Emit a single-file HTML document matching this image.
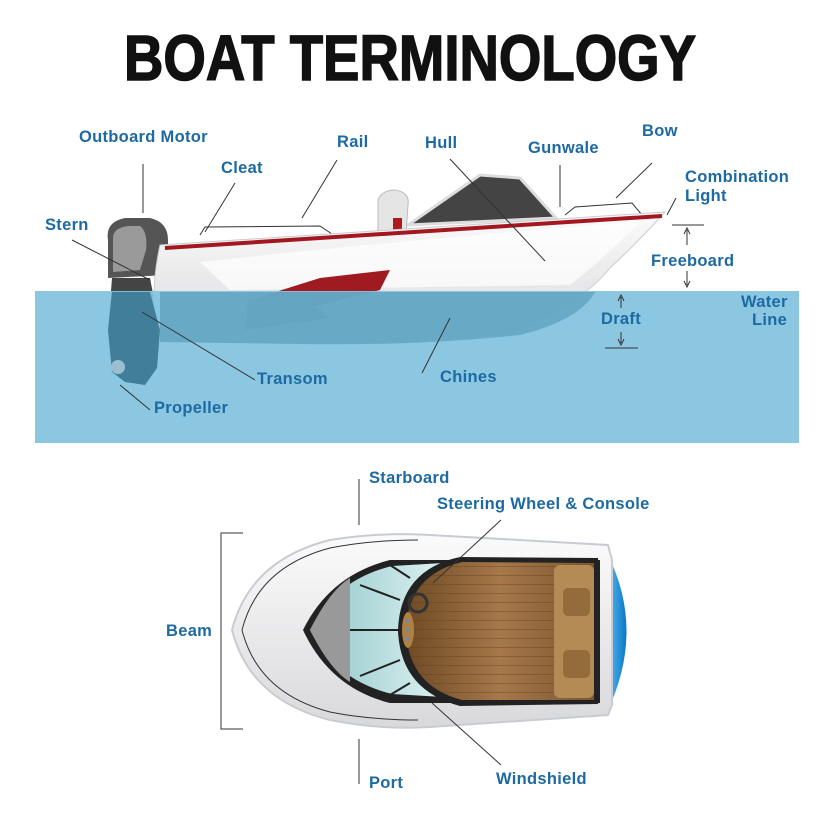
<!DOCTYPE html>
<html><head><meta charset="utf-8"><style>
html,body{margin:0;padding:0;background:#fff;}
svg{display:block;}
.l{font-family:"Liberation Sans",sans-serif;font-weight:bold;font-size:16.5px;letter-spacing:0.3px;fill:#1d6aa3;}
.ln{stroke:#333;stroke-width:1;fill:none;}
</style></head><body>
<svg width="833" height="833" viewBox="0 0 833 833" xmlns="http://www.w3.org/2000/svg">
<defs>
<linearGradient id="hull" x1="0" y1="0" x2="0" y2="1"><stop offset="0" stop-color="#fbfbfb"/><stop offset="1" stop-color="#d9d9dc"/></linearGradient>
<linearGradient id="wood" x1="0" y1="0" x2="1" y2="0"><stop offset="0" stop-color="#6e4a25"/><stop offset="0.5" stop-color="#a6784a"/><stop offset="1" stop-color="#7b5530"/></linearGradient>
<linearGradient id="glass" x1="0" y1="0" x2="1" y2="0"><stop offset="0" stop-color="#8fc7c9"/><stop offset="1" stop-color="#e8f6f6"/></linearGradient>
<linearGradient id="cap" x1="0" y1="0" x2="1" y2="0"><stop offset="0" stop-color="#55b6ef"/><stop offset="1" stop-color="#0a78c6"/></linearGradient>
<pattern id="planks" width="10" height="9" patternUnits="userSpaceOnUse"><line x1="0" y1="8.5" x2="10" y2="8.5" stroke="#5a3a1a" stroke-opacity="0.35"/></pattern>
</defs>
<text x="410" y="80" text-anchor="middle" font-family="Liberation Sans,sans-serif" font-weight="bold" font-size="64" textLength="572" lengthAdjust="spacingAndGlyphs" fill="#111" stroke="#111" stroke-width="1.5">BOAT TERMINOLOGY</text>

<!-- motor -->
<path d="M108,240 Q105,222 125,218 L150,218 Q168,222 168,240 L168,275 L108,278 Z" fill="#555"/>
<path d="M113,238 Q113,228 128,226 L140,226 Q148,232 146,250 L140,270 L113,272 Z" fill="#9a9a9a"/>
<path d="M112,278 L150,278 L160,330 L157,368 L145,385 L125,382 L112,372 L108,330 Z" fill="#444"/>
<!-- windshield -->
<path d="M408,225 L480,175 L520,178 L556,218 Z" fill="#444" stroke="#ddd" stroke-width="3"/>
<!-- seat -->
<path d="M378,235 L378,200 Q382,190 395,190 Q410,192 408,205 L406,235 Z" fill="#e5e5e5" stroke="#bbb"/>
<rect x="393" y="218" width="9" height="13" fill="#b0181e"/>
<!-- rails -->
<path d="M200,235 L205,227 L320,226 L335,236" class="ln" stroke="#aaa" stroke-width="2.5"/>
<path d="M565,215 L575,207 L632,203 L642,215" class="ln" stroke="#aaa" stroke-width="2.5"/>
<!-- hull -->
<path d="M160,245 L665,212 Q640,240 610,268 Q585,300 520,330 Q420,345 300,342 L160,342 Q148,300 160,245 Z" fill="url(#hull)" stroke="#ccc"/>
<path d="M200,262 Q400,240 640,222 Q600,262 570,285 L230,290 Z" fill="#ffffff" opacity="0.7"/>
<path d="M165,248 L662,216" stroke="#a31820" stroke-width="4"/>
<path d="M250,300 L320,278 L390,270 L380,290 L300,310 L255,322 Z" fill="#a01a22"/>
<path d="M248,300 L300,292 L330,318 L245,330 Z" fill="#555"/>
<!-- water -->
<rect x="35" y="291" width="764" height="152" fill="#86c4e0" fill-opacity="0.95"/>
<path d="M160,292 L595,292 Q580,320 520,335 Q420,346 300,344 L160,342 Z" fill="#3f87a6" fill-opacity="0.45"/>
<path d="M112,292 L150,292 L160,330 L157,368 L145,385 L125,382 L112,372 L108,330 Z" fill="#2f6e8a" fill-opacity="0.8"/>
<circle cx="118" cy="367" r="7" fill="#9bbfd0"/>
<!-- side leaders -->
<line class="ln" x1="143" y1="164" x2="143" y2="213"/>
<line class="ln" x1="235" y1="183" x2="205" y2="232"/>
<line class="ln" x1="337" y1="160" x2="302" y2="218"/>
<line class="ln" x1="450" y1="159" x2="545" y2="261"/>
<line class="ln" x1="560" y1="165" x2="560" y2="207"/>
<line class="ln" x1="652" y1="163" x2="616" y2="198"/>
<line class="ln" x1="676" y1="198" x2="667" y2="215"/>
<line class="ln" x1="72" y1="240" x2="150" y2="280"/>
<line class="ln" x1="142" y1="312" x2="255" y2="380" stroke="#345"/>
<line class="ln" x1="422" y1="373" x2="450" y2="318" stroke="#345"/>
<line class="ln" x1="120" y1="385" x2="150" y2="410" stroke="#345"/>
<line class="ln" x1="672" y1="225" x2="704" y2="225" stroke="#555"/>
<path d="M687,230 L687,245 M684,234 L687,228 L690,234" class="ln" stroke="#111"/>
<path d="M687,271 L687,285 M684,281 L687,287 L690,281" class="ln" stroke="#111"/>
<path d="M621,297 L621,308 M618,301 L621,295 L624,301" class="ln" stroke="#111"/>
<path d="M621,332 L621,343 M618,339 L621,345 L624,339" class="ln" stroke="#111"/>
<line class="ln" x1="605" y1="348" x2="638" y2="348" stroke="#345"/>
<text class="l" x="79" y="142">Outboard Motor</text>
<text class="l" x="221" y="173">Cleat</text>
<text class="l" x="337" y="147">Rail</text>
<text class="l" x="425" y="148">Hull</text>
<text class="l" x="528" y="153">Gunwale</text>
<text class="l" x="642" y="136">Bow</text>
<text class="l" x="685" y="182">Combination</text>
<text class="l" x="685" y="201">Light</text>
<text class="l" x="45" y="230">Stern</text>
<text class="l" x="651" y="266">Freeboard</text>
<text class="l" x="741" y="307">Water</text>
<text class="l" x="752" y="325">Line</text>
<text class="l" x="601" y="324">Draft</text>
<text class="l" x="257" y="384">Transom</text>
<text class="l" x="440" y="382">Chines</text>
<text class="l" x="154" y="413">Propeller</text>

<!-- top view boat -->
<path d="M608,555 Q645,630 608,710 Z" fill="url(#cap)"/>
<path d="M232,630 Q250,560 330,540 Q380,532 430,535 L608,545 L612,560 L612,705 L608,715 L430,727 Q380,730 330,720 Q250,700 232,630 Z" fill="url(#hull)" stroke="#c8ccd2" stroke-width="2"/>
<path d="M242,630 Q258,567 330,548 Q370,540 418,540 M242,630 Q258,693 330,712 Q370,720 418,720" class="ln" stroke="#aaa" stroke-width="2.5"/>
<path d="M303,630 Q330,575 390,560 L600,560 L600,703 L390,703 Q330,688 303,630 Z" fill="#222"/>
<path d="M310,630 Q335,580 392,566 L460,562 L460,698 L392,694 Q335,680 310,630 Z" fill="url(#glass)"/>
<path d="M310,630 Q330,590 350,578 L350,682 Q330,670 310,630 Z" fill="#999"/>
<path d="M350,630 L415,630 M360,585 L400,600 M390,565 L410,578 M360,676 L400,660 M390,695 L410,683" stroke="#222" stroke-width="2"/>
<path d="M460,557 Q400,570 398,630 Q400,690 460,706 L598,704 L598,558 Z" fill="#222"/>
<path d="M462,562 Q408,575 406,630 Q408,686 462,700 L594,700 L594,563 Z" fill="url(#wood)"/>
<path d="M462,562 Q408,575 406,630 Q408,686 462,700 L594,700 L594,563 Z" fill="url(#planks)"/>
<rect x="554" y="565" width="40" height="133" rx="6" fill="#b48a55"/>
<rect x="563" y="588" width="27" height="28" rx="5" fill="#946c3c"/>
<rect x="563" y="650" width="27" height="28" rx="5" fill="#946c3c"/>
<circle cx="418" cy="603" r="9" fill="none" stroke="#333" stroke-width="3"/>
<ellipse cx="408" cy="630" rx="6" ry="18" fill="#b08040"/>
<circle cx="408" cy="621" r="2" fill="#6b8cab"/><circle cx="408" cy="630" r="2" fill="#6b8cab"/><circle cx="408" cy="639" r="2" fill="#6b8cab"/>
<line class="ln" x1="359" y1="479" x2="359" y2="525"/>
<line class="ln" x1="359" y1="739" x2="359" y2="784"/>
<path d="M243,533 L221,533 L221,729 L243,729" class="ln"/>
<line class="ln" x1="501" y1="520" x2="433" y2="583"/>
<line class="ln" x1="501" y1="765" x2="432" y2="703"/>
<text class="l" x="369" y="483">Starboard</text>
<text class="l" x="437" y="509">Steering Wheel &amp; Console</text>
<text class="l" x="166" y="636">Beam</text>
<text class="l" x="369" y="788">Port</text>
<text class="l" x="496" y="784">Windshield</text>
</svg>
</body></html>
